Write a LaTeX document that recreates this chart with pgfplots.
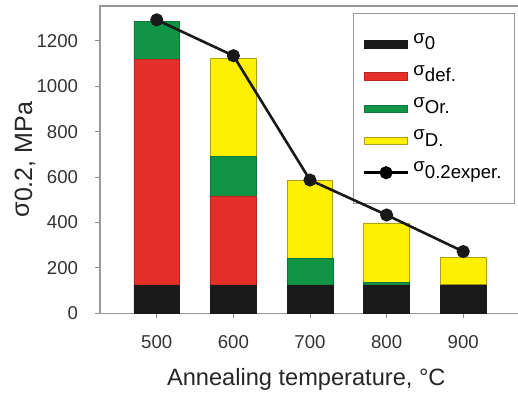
\documentclass[border=0pt]{standalone}
\usepackage{pgfplots}
\pgfplotsset{compat=1.18}
\usepackage{fontspec}
\setmainfont{Liberation Sans}
\definecolor{cBlack}{RGB}{26,26,26}
\definecolor{cRed}{RGB}{228,48,40}
\definecolor{cGreen}{RGB}{16,148,70}
\definecolor{cYellow}{RGB}{255,240,0}
\definecolor{cYEdge}{RGB}{170,160,30}
\pgfplotsset{
  common/.style={
    at={(0,0)}, anchor=south west,
    scale only axis, width=209pt, height=153.5pt,
    xmin=426, xmax=972, ymin=0, ymax=1354,
  },
  barlegend/.style={legend image code/.code={\draw[##1] (0pt,-1.8pt) rectangle (21.5pt,1.8pt);}},
  linelegend/.style={legend image code/.code={\draw[##1] (0pt,0pt) -- (22pt,0pt);
     \begin{scope}[##1, shift={(11pt,0pt)}]\pgfuseplotmark{*}\end{scope}}},
}
\begin{document}
\begin{tikzpicture}
\begin{axis}[
  common,
  ybar stacked, bar width=22.85pt,
  xtick={500,600,700,800,900}, ytick={0,200,...,1200},
  tick align=outside, xtick pos=bottom, ytick pos=left,
  major tick length=2.5pt,
  tick style={black!45, line width=0.5pt},
  axis line style={black!40, line width=0.6pt},
  /pgf/number format/assume math mode=true,
  /pgf/number format/1000 sep={},
  ticklabel style={font=\fontsize{9.3}{11}\selectfont, text=black!80},
  yticklabel style={xshift=-5pt},
  xticklabel style={yshift=-5pt},
  xlabel={Annealing temperature, °C},
  ylabel={\raisebox{0.13em}{σ}0.2, MPa},
  every axis x label/.style={at={(axis description cs:0.493,-0.2345)}, anchor=base, font=\fontsize{11.8}{14}\selectfont, text=black!85},
  every axis y label/.style={at={(axis description cs:-0.1627,0.5)}, anchor=base, rotate=90, font=\fontsize{12.5}{14}\selectfont, text=black!85},
  legend style={at={(0.605,0.977)}, anchor=north west, draw=black!40, line width=0.6pt,
    font=\fontsize{9.3}{11}\selectfont, inner xsep=4.5pt, inner ysep=8.5pt, row sep=2.55pt,
    nodes={text height=7.5pt, text depth=2pt}},
  legend cell align=left,
]
\addplot[fill=cBlack, draw=cBlack, line width=0.3pt, barlegend] coordinates {(500,125) (600,125) (700,125) (800,125) (900,125)};
\addlegendentry{\raisebox{3.3pt}{σ}0}
\addplot[fill=cRed, draw=cRed!80!black, line width=0.3pt, barlegend] coordinates {(500,995) (600,392) (700,0) (800,0) (900,0)};
\addlegendentry{\raisebox{3.3pt}{σ}def.}
\addplot[fill=cGreen, draw=cGreen!80!black, line width=0.3pt, barlegend] coordinates {(500,165) (600,173) (700,116) (800,12) (900,0)};
\addlegendentry{\raisebox{3.3pt}{σ}Or.}
\addplot[fill=cYellow, draw=cYEdge, line width=0.4pt, barlegend] coordinates {(500,0) (600,433) (700,346) (800,261) (900,119)};
\addlegendentry{\raisebox{3.3pt}{σ}D.}
\addlegendimage{black, line width=1.3pt, mark=*, mark size=2.6pt, linelegend}
\addlegendentry{\raisebox{3.3pt}{σ}0.2exper.}
\end{axis}
\begin{axis}[common, hide axis]
\addplot[black!90, line width=1.3pt, mark=*, mark size=2.6pt] coordinates {(500,1293) (600,1135) (700,587) (800,433) (900,272)};
\end{axis}
\pgfresetboundingbox
\path (-50pt,-40pt) rectangle (208.8pt,156.5pt);
\end{tikzpicture}
\end{document}
